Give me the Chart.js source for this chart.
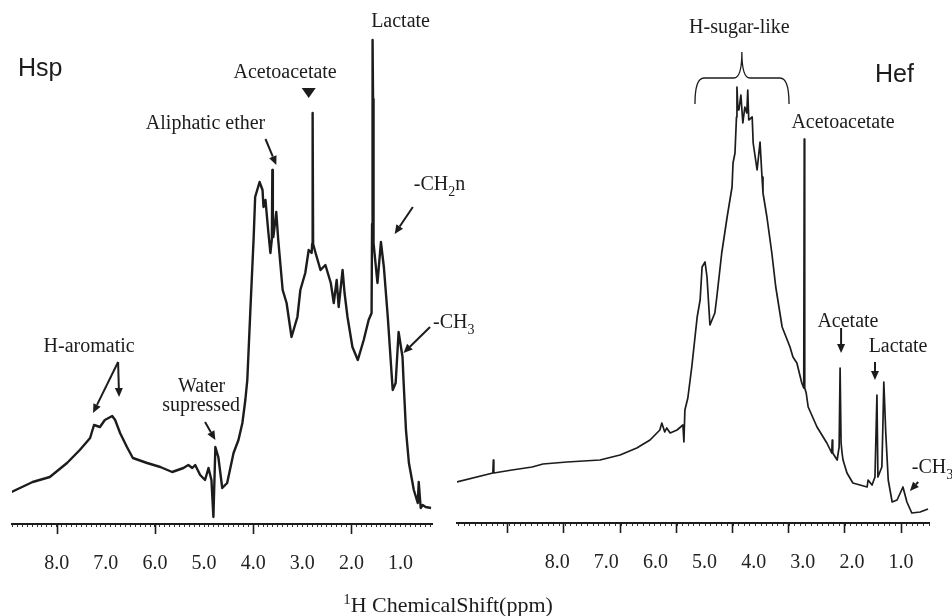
<!DOCTYPE html>
<html>
<head>
<meta charset="utf-8">
<script src="https://cdn.jsdelivr.net/npm/chart.js@4.4.0/dist/chart.umd.min.js"></script>
<style>
  html, body { margin: 0; padding: 0; background: #fff; }
  #wrap { position: relative; width: 952px; height: 616px; }
  #wrap canvas { position: absolute; left: 0; top: 0; }
</style>
</head>
<body>
<div id="wrap">
  <canvas id="chartHsp" width="952" height="616"></canvas>
  <canvas id="chartHef" width="952" height="616"></canvas>
</div>
<script>
// Hsp spectrum (left panel): chemical shift (ppm) and relative intensity
const hspShift = [
  8.92, 8.49, 8.14, 7.79, 7.53, 7.32, 7.24, 7.12, 7.02, 6.87,
  6.81, 6.71, 6.57, 6.45, 6.16, 5.89, 5.65, 5.42, 5.32, 5.24,
  5.18, 5.08, 4.98, 4.91, 4.85, 4.81, 4.77, 4.71, 4.63, 4.53,
  4.40, 4.30, 4.22, 4.16, 4.12, 4.06, 3.99, 3.96, 3.87, 3.81,
  3.79, 3.75, 3.69, 3.65, 3.62, 3.61, 3.60, 3.59, 3.53, 3.49,
  3.40, 3.32, 3.22, 3.10, 3.04, 2.94, 2.87, 2.81, 2.80, 2.79,
  2.78, 2.73, 2.63, 2.53, 2.42, 2.36, 2.30, 2.26, 2.18, 2.14,
  2.08, 1.98, 1.87, 1.75, 1.65, 1.59, 1.58, 1.57, 1.56, 1.55,
  1.47, 1.40, 1.34, 1.26, 1.16, 1.10, 1.04, 0.96, 0.94, 0.89,
  0.83, 0.73, 0.65, 0.63, 0.59, 0.55, 0.49, 0.38
];
const hspIntensity = [
  6.4, 8.4, 9.4, 12.2, 14.8, 17.2, 19.8, 19.4, 20.8, 21.6,
  20.8, 18.2, 15.4, 13.2, 12.2, 11.4, 10.4, 11.2, 11.8, 11.2,
  11.8, 9.8, 8.8, 11.2, 8.8, 1.4, 15.4, 13.4, 7.2, 8.2,
  14.2, 16.8, 20.2, 24.8, 28.8, 42.2, 57.4, 65.4, 68.4, 66.8,
  63.4, 64.8, 58.2, 54.2, 57.0, 70.8, 58.0, 57.4, 62.4, 56.8,
  46.8, 44.2, 37.4, 41.4, 46.8, 50.2, 54.8, 54.2, 56.0, 82.2,
  56.0, 54.2, 50.8, 51.8, 48.2, 44.2, 48.8, 43.4, 50.8, 46.2,
  41.4, 35.4, 32.8, 36.8, 40.8, 42.2, 60.0, 96.8, 85.0, 56.2,
  48.2, 56.4, 51.4, 41.4, 26.8, 28.2, 38.4, 33.4, 28.8, 18.8,
  12.2, 6.8, 4.2, 8.4, 3.2, 3.8, 3.4, 3.2
];

// Hef spectrum (right panel)
const hefShift = [
  10.04, 9.31, 9.30, 9.29, 8.92, 8.51, 8.29, 7.80, 7.13, 6.72,
  6.38, 6.11, 5.91, 5.87, 5.81, 5.77, 5.70, 5.56, 5.44, 5.42,
  5.40, 5.34, 5.26, 5.15, 5.09, 5.05, 4.99, 4.95, 4.89, 4.79,
  4.75, 4.65, 4.54, 4.44, 4.42, 4.38, 4.35, 4.34, 4.32, 4.30,
  4.26, 4.22, 4.18, 4.14, 4.12, 4.10, 4.03, 4.01, 3.93, 3.87,
  3.83, 3.81, 3.73, 3.63, 3.55, 3.42, 3.26, 3.20, 3.12, 3.02,
  2.98, 2.97, 2.96, 2.93, 2.89, 2.71, 2.51, 2.41, 2.40, 2.39,
  2.30, 2.26, 2.24, 2.22, 2.20, 2.18, 2.10, 1.98, 1.69, 1.67,
  1.59, 1.53, 1.49, 1.47, 1.39, 1.37, 1.35, 1.31, 1.26, 1.18,
  1.08, 0.96, 0.88, 0.78, 0.61, 0.45
];
const hefIntensity = [
  8.2, 10.0, 12.6, 10.0, 10.6, 11.2, 11.8, 12.2, 12.6, 13.6,
  15.0, 16.6, 18.6, 20.0, 18.2, 19.0, 18.0, 18.6, 19.6, 16.2,
  22.6, 25.0, 31.2, 41.2, 44.6, 51.2, 52.2, 49.2, 39.6, 42.0,
  45.2, 54.0, 61.2, 67.2, 72.0, 74.0, 81.2, 87.2, 82.6, 82.6,
  85.6, 80.0, 83.2, 82.0, 86.6, 80.6, 81.2, 76.0, 70.6, 76.2,
  69.2, 66.0, 61.2, 54.0, 47.2, 39.2, 35.2, 33.2, 32.0, 28.0,
  27.0, 76.8, 27.0, 26.0, 23.2, 19.2, 16.0, 14.0, 16.6, 14.0,
  12.6, 15.2, 31.0, 16.0, 14.0, 12.6, 10.0, 8.0, 7.2, 8.6,
  7.6, 9.2, 25.6, 9.2, 11.2, 19.0, 28.2, 18.0, 8.6, 4.2,
  4.6, 7.2, 4.2, 2.0, 2.2, 2.8
];

// axis extents and ticks
const hspRange = [0.36, 8.91];
const hefRange = [0.43, 10.04];
const tickLabelValues = [8, 7, 6, 5, 4, 3, 2, 1];
const hspMajorTicks = [8, 6, 4, 2];
const hefMajorTicks = [9.02, 7.88, 6.72, 5.58, 4.44, 3.30, 2.16, 1.00];
const hspMinorStep = 0.1;     // ppm between small ticks
const hefMinorStep = 0.114;

// annotations, placed in (ppm, intensity)
const hspLabels = [
  { text: ["Lactate"], at: [1.00, 99.4], align: "center" },
  { text: ["Acetoacetate"], at: [3.35, 89.2], align: "center" },
  { text: ["Aliphatic ether"], at: [4.97, 79.0], align: "center" },
  { text: ["-CH", ["2"], "n"], at: [0.73, 66.8], align: "left" },
  { text: ["-CH", ["3"]], at: [0.34, 39.2], align: "left" },
  { text: ["H-aromatic"], at: [7.34, 34.4], align: "center" },
  { text: ["Water"], at: [5.05, 26.4], align: "center" },
  { text: ["supressed"], at: [5.06, 22.6], align: "center" }
];
const hspArrows = [
  { from: [3.75, 77.0], to: [3.53, 71.8] },
  { from: [0.75, 63.4], to: [1.12, 58.0] },
  { from: [0.40, 39.4], to: [0.94, 34.2] },
  { from: [6.75, 32.4], to: [7.26, 22.2] },
  { from: [6.75, 32.4], to: [6.73, 25.4] },
  { from: [4.98, 20.4], to: [4.77, 16.8] }
];
const hspMarkers = [{ at: [2.87, 87.2] }];

const hefLabels = [
  { text: ["H-sugar-like"], at: [4.29, 98.0], align: "center" },
  { text: ["Acetoacetate"], at: [2.18, 79.0], align: "center" },
  { text: ["Acetate"], at: [2.08, 39.2], align: "center" },
  { text: ["Lactate"], at: [1.06, 34.2], align: "center" },
  { text: ["-CH", ["3"]], at: [0.78, 10.0], align: "left" }
];
const hefArrows = [
  { from: [2.22, 39.0], to: [2.22, 34.0] },
  { from: [1.53, 32.2], to: [1.53, 28.6] },
  { from: [0.65, 8.2], to: [0.82, 6.4] }
];
const hefBrace = { left: 5.195, right: 3.28, tip: 4.24, ends: 83.8, bar: 89.0, peak: 94.2 };

const SERIF = '"Liberation Serif", "Times New Roman", serif';
const SANS = '"Liberation Sans", Arial, sans-serif';
const INK = "#1c1c1c";

// parts: "text" normal, ["x"] subscript, {sup: "x"} superscript
function drawRich(ctx, parts, x, y, align, size) {
  const items = parts.map(p => {
    let t = p, shift = 0, fs = size;
    if (Array.isArray(p)) { t = p[0]; shift = size * 0.28; fs = Math.round(size * 0.68); }
    else if (typeof p === "object") { t = p.sup; shift = -size * 0.38; fs = Math.round(size * 0.68); }
    ctx.font = fs + "px " + SERIF;
    return { t, shift, fs, w: ctx.measureText(t).width };
  });
  const total = items.reduce((a, it) => a + it.w, 0);
  let cx = align === "center" ? x - total / 2 : x;
  ctx.textAlign = "left";
  ctx.textBaseline = "alphabetic";
  items.forEach(it => {
    ctx.font = it.fs + "px " + SERIF;
    ctx.fillText(it.t, cx, y + it.shift);
    cx += it.w;
  });
}

function drawArrow(ctx, x1, y1, x2, y2) {
  const a = Math.atan2(y2 - y1, x2 - x1);
  const L = 9, W = 4;
  const bx = x2 - L * Math.cos(a), by = y2 - L * Math.sin(a);
  ctx.beginPath();
  ctx.moveTo(x1, y1);
  ctx.lineTo(bx, by);
  ctx.stroke();
  ctx.beginPath();
  ctx.moveTo(x2, y2);
  ctx.lineTo(bx + W * Math.sin(a), by - W * Math.cos(a));
  ctx.lineTo(bx - W * Math.sin(a), by + W * Math.cos(a));
  ctx.closePath();
  ctx.fill();
}

function makeMarks(cfg) {
  return {
    id: "spectrumMarks",
    afterDraw(chart) {
      const ctx = chart.ctx;
      const xs = chart.scales.x, ys = chart.scales.y;
      const P = (pt) => [xs.getPixelForValue(pt[0]), ys.getPixelForValue(pt[1])];
      ctx.save();
      ctx.fillStyle = INK;
      ctx.strokeStyle = INK;

      // long ticks
      ctx.lineWidth = 1.6;
      const axisY = xs.top;
      cfg.majors.forEach(v => {
        const x = Math.round(xs.getPixelForValue(v)) + 0.5;
        ctx.beginPath();
        ctx.moveTo(x, axisY);
        ctx.lineTo(x, axisY + 10);
        ctx.stroke();
      });

      (cfg.labels || []).forEach(l => {
        const [x, y] = P(l.at);
        drawRich(ctx, l.text, x, y, l.align, 20);
      });

      ctx.lineWidth = 2;
      (cfg.arrows || []).forEach(a => {
        const [x1, y1] = P(a.from);
        const [x2, y2] = P(a.to);
        drawArrow(ctx, x1, y1, x2, y2);
      });

      (cfg.markers || []).forEach(m => {
        const [x, y] = P(m.at);
        ctx.beginPath();
        ctx.moveTo(x - 7, y);
        ctx.lineTo(x + 7, y);
        ctx.lineTo(x, y + 10);
        ctx.closePath();
        ctx.fill();
      });

      if (cfg.brace) {
        const b = cfg.brace;
        const xl = xs.getPixelForValue(b.left), xr = xs.getPixelForValue(b.right);
        const xt = xs.getPixelForValue(b.tip);
        const ye = ys.getPixelForValue(b.ends), yb = ys.getPixelForValue(b.bar);
        const yp = ys.getPixelForValue(b.peak);
        ctx.lineWidth = 1.3;
        ctx.beginPath();
        ctx.moveTo(xl, ye);
        ctx.quadraticCurveTo(xl, yb, xl + 9, yb);
        ctx.lineTo(xt - 8, yb);
        ctx.quadraticCurveTo(xt, yb, xt, yp);
        ctx.quadraticCurveTo(xt, yb, xt + 8, yb);
        ctx.lineTo(xr - 9, yb);
        ctx.quadraticCurveTo(xr, yb, xr, ye);
        ctx.stroke();
      }

      // panel name
      ctx.font = "25px " + SANS;
      ctx.textAlign = "left";
      ctx.textBaseline = "alphabetic";
      const [nx, ny] = P(cfg.name.at);
      ctx.fillText(cfg.name.text, nx, ny);

      if (cfg.title) {
        drawRich(ctx, [{ sup: "1" }, "H ChemicalShift(ppm)"], 448, 612, "center", 22);
      }
      ctx.restore();
    }
  };
}

function buildPanel(id, shift, intensity, range, minorStep, pad, axisHeight, lineWidth, marks) {
  const ctx = document.getElementById(id).getContext("2d");
  return new Chart(ctx, {
    type: "line",
    data: {
      datasets: [{
        data: shift.map((s, i) => ({ x: s, y: intensity[i] })),
        borderColor: INK,
        borderWidth: lineWidth,
        pointRadius: 0,
        tension: 0,
        fill: false,
        borderJoinStyle: "round"
      }]
    },
    options: {
      responsive: false,
      animation: false,
      events: [],
      layout: { padding: pad },
      plugins: { legend: { display: false }, tooltip: { enabled: false } },
      scales: {
        x: {
          type: "linear",
          reverse: true,
          min: range[0],
          max: range[1],
          afterFit: s => { s.height = axisHeight; },
          afterBuildTicks: s => {
            // small ticks on the scale grid, plus label-only ticks at whole ppm
            const t = [];
            const k0 = Math.ceil((s.min - 1) / minorStep), k1 = Math.floor((s.max - 1) / minorStep);
            for (let k = k0; k <= k1; k++) t.push({ value: 1 + k * minorStep, lbl: false });
            tickLabelValues.forEach(v => {
              if (!t.some(tk => Math.abs(tk.value - v) < 1e-6)) t.push({ value: v, lbl: true });
            });
            t.sort((a, b) => a.value - b.value);
            s.ticks = t;
          },
          border: { display: true, color: INK, width: 2 },
          grid: {
            display: true, drawOnChartArea: false, drawTicks: true, tickLength: 3, lineWidth: 1,
            color: "#333",
            tickColor: c => (c.tick && c.tick.lbl ? "rgba(0,0,0,0)" : "#333")
          },
          ticks: {
            autoSkip: false,
            maxRotation: 0,
            minRotation: 0,
            padding: 25,
            color: "#222",
            font: { family: SERIF, size: 20 },
            callback: v => {
              const r = Math.round(v);
              return Math.abs(v - r) < 1e-6 && tickLabelValues.includes(r) ? r.toFixed(1) : "";
            }
          }
        },
        y: { display: false, min: 0, max: 100 }
      }
    },
    plugins: [marks]
  });
}

buildPanel("chartHsp", hspShift, hspIntensity, hspRange, hspMinorStep,
  { left: 12, right: 520, top: 24, bottom: 0 }, 92, 2.4,
  makeMarks({ majors: hspMajorTicks, labels: hspLabels, arrows: hspArrows, markers: hspMarkers,
    name: { text: "Hsp", at: [8.79, 89.6] }, title: true }));

buildPanel("chartHef", hefShift, hefIntensity, hefRange, hefMinorStep,
  { left: 457, right: 23, top: 23, bottom: 0 }, 93, 1.7,
  makeMarks({ majors: hefMajorTicks, labels: hefLabels, arrows: hefArrows, brace: hefBrace,
    name: { text: "Hef", at: [1.53, 88.2] } }));
</script>
</body>
</html>
